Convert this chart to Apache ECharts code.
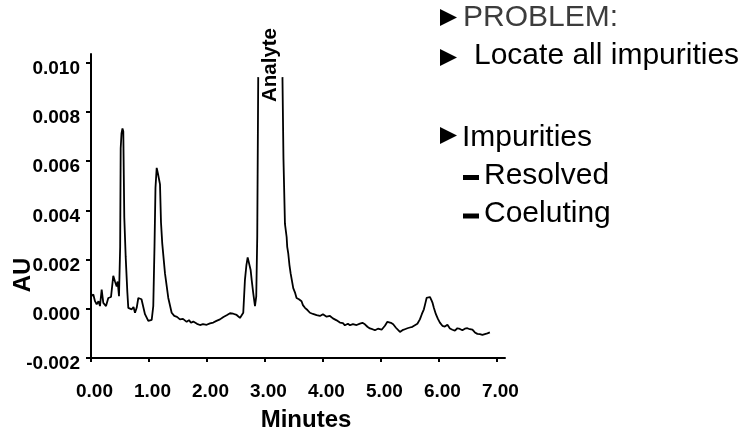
<!DOCTYPE html>
<html>
<head>
<meta charset="utf-8">
<script src="https://cdn.jsdelivr.net/npm/echarts@6/dist/echarts.min.js"></script>
<style>
html,body{margin:0;padding:0;background:#fff;}
#chart{width:748px;height:437px;}
</style>
</head>
<body>
<div id="chart"></div>
<script>
// Retention time (minutes)
const minutes = [
0.000,0.040,0.069,0.098,0.129,0.155,0.184,0.212,0.259,0.298,0.345,0.384,0.414,0.443,0.460,0.483,
0.503,0.512,0.526,0.543,0.557,0.574,0.598,0.626,0.643,0.702,0.733,0.759,0.788,0.816,0.845,0.871,
0.891,0.931,0.988,1.047,1.074,1.095,1.112,1.133,1.155,1.190,1.207,1.229,1.276,1.333,1.391,1.436,
1.483,1.534,1.586,1.650,1.690,1.724,1.764,1.828,1.879,1.931,1.995,2.052,2.109,2.164,2.224,2.284,
2.340,2.397,2.453,2.512,2.540,2.569,2.598,2.626,2.655,2.681,2.702,2.721,2.753,2.771,2.798,2.828,
2.850,2.867,2.884,3.090,3.302,3.319,3.345,3.374,3.384,3.402,3.422,3.443,3.488,3.517,3.545,3.586,
3.631,3.655,3.690,3.733,3.776,3.828,3.891,3.948,4.000,4.064,4.121,4.172,4.236,4.293,4.345,4.379,
4.431,4.466,4.517,4.581,4.638,4.681,4.724,4.767,4.810,4.853,4.897,4.948,5.012,5.069,5.112,5.143,
5.172,5.212,5.259,5.293,5.328,5.371,5.414,5.457,5.500,5.543,5.586,5.629,5.672,5.707,5.741,5.767,
5.788,5.819,5.845,5.871,5.891,5.914,5.948,5.983,6.017,6.060,6.103,6.147,6.190,6.233,6.276,6.319,
6.362,6.405,6.448,6.491,6.534,6.578,6.621,6.664,6.707,6.750,6.793,6.836,6.879
];
// Absorbance (mAU); null = off-scale analyte top (not drawn)
const absorbanceMilli = [
0.51,0.58,0.31,0.18,0.31,0.11,0.78,0.24,0.11,0.44,0.48,1.34,1.11,0.91,1.11,0.51,
2.52,6.53,7.13,7.33,7.21,3.72,2.12,0.71,0.04,-0.02,0.07,-0.16,0.04,0.44,0.51,0.39,
0.31,-0.22,-0.49,-0.45,0.11,2.52,4.92,5.73,5.49,5.06,3.52,2.65,1.44,0.44,-0.16,-0.29,
-0.33,-0.43,-0.41,-0.53,-0.46,-0.57,-0.52,-0.61,-0.66,-0.62,-0.65,-0.59,-0.56,-0.49,-0.43,-0.33,
-0.26,-0.18,-0.20,-0.25,-0.28,-0.37,-0.40,-0.16,1.18,1.79,2.09,2.03,1.58,1.18,0.64,0.11,
0.51,2.92,9.42,null,9.42,6.13,3.45,2.92,2.52,2.25,1.79,1.44,0.84,0.67,0.44,0.39,
0.31,0.15,0.04,-0.05,-0.16,-0.21,-0.26,-0.29,-0.22,-0.32,-0.29,-0.39,-0.47,-0.56,-0.58,-0.67,
-0.61,-0.67,-0.62,-0.66,-0.60,-0.57,-0.63,-0.73,-0.80,-0.83,-0.87,-0.81,-0.85,-0.69,-0.53,-0.49,
-0.57,-0.63,-0.77,-0.85,-0.94,-0.87,-0.83,-0.79,-0.76,-0.73,-0.67,-0.61,-0.43,-0.21,-0.02,0.23,
0.44,0.48,0.48,0.35,0.24,0.03,-0.22,-0.41,-0.56,-0.69,-0.72,-0.65,-0.80,-0.85,-0.89,-0.79,
-0.82,-0.87,-0.81,-0.79,-0.83,-0.85,-0.96,-1.02,-1.03,-1.06,-1.03,-1.00,-0.96
];
const xTicks = [0,1,2,3,4,5,6,7];
const yTicks = [-0.002,0.000,0.002,0.004,0.006,0.008,0.010];
const peakLabel = 'Analyte';
const xTitle = 'Minutes';
const yTitle = 'AU';
const notes = ['PROBLEM:', 'Locate all impurities', 'Impurities', 'Resolved', 'Coeluting'];

const seriesData = minutes.map((t, i) => [t, absorbanceMilli[i] === null ? null : absorbanceMilli[i] / 1000]);

const FONT = '"Liberation Sans", Arial, Helvetica, sans-serif';
const chart = echarts.init(document.getElementById('chart'), null, {renderer: 'canvas'});
const axisLine = {show: true, onZero: false, lineStyle: {color: '#000', width: 2}};

chart.setOption({
  animation: false,
  backgroundColor: '#fff',
  grid: {left: 91, right: 243, top: 54, bottom: 74, containLabel: false},
  xAxis: {
    type: 'value', min: 0, max: 7.14,
    axisLine: axisLine,
    splitLine: {show: false},
    axisTick: {show: true, inside: false, length: 4, customValues: xTicks, lineStyle: {color: '#000', width: 2}},
    axisLabel: {show: true, customValues: xTicks, margin: 24, color: '#000', fontFamily: FONT, fontWeight: 'bold', fontSize: 19,
      padding: [0, 0, 0, 7], formatter: v => v.toFixed(2)},
    name: xTitle, nameLocation: 'middle', nameGap: 50,
    nameTextStyle: {color: '#000', fontFamily: FONT, fontWeight: 'bold', fontSize: 24, padding: [0, 0, 0, 16]}
  },
  yAxis: {
    type: 'value', min: -0.002, max: 0.01036,
    axisLine: axisLine,
    splitLine: {show: false},
    axisTick: {show: true, inside: false, length: 5, customValues: yTicks, lineStyle: {color: '#000', width: 2}},
    axisLabel: {show: true, customValues: yTicks, margin: 11, color: '#000', fontFamily: FONT, fontWeight: 'bold', fontSize: 19,
      verticalAlign: 'top', lineHeight: 12, formatter: v => v.toFixed(3)}
  },
  series: [{
    type: 'line', data: seriesData, showSymbol: false, connectNulls: false, smooth: false,
    lineStyle: {color: '#000', width: 1.8}, silent: true
  }],
  graphic: [
    {type: 'text', x: 23, y: 275, rotation: Math.PI / 2,
      style: {text: yTitle, font: 'bold 24px ' + FONT, fill: '#000', align: 'center', verticalAlign: 'middle'}},
    {type: 'text', x: 270, y: 65, rotation: Math.PI / 2,
      style: {text: peakLabel, font: 'bold 20.5px ' + FONT, fill: '#000', align: 'center', verticalAlign: 'middle'}},
    {type: 'polygon', shape: {points: [[440, 9], [457, 17.5], [440, 26]]}, style: {fill: '#000'}},
    {type: 'text', x: 463, y: 18, style: {text: notes[0], font: '30px ' + FONT, fill: '#3c3c3c', align: 'left', verticalAlign: 'middle'}},
    {type: 'polygon', shape: {points: [[440, 49], [457, 57.5], [440, 66]]}, style: {fill: '#000'}},
    {type: 'text', x: 474, y: 56, style: {text: notes[1], font: '30px ' + FONT, fill: '#000', align: 'left', verticalAlign: 'middle'}},
    {type: 'polygon', shape: {points: [[440, 127], [457, 135.5], [440, 144]]}, style: {fill: '#000'}},
    {type: 'text', x: 462, y: 138, style: {text: notes[2], font: '30px ' + FONT, fill: '#000', align: 'left', verticalAlign: 'middle'}},
    {type: 'rect', shape: {x: 463, y: 175, width: 16, height: 5}, style: {fill: '#000'}},
    {type: 'text', x: 484, y: 176, style: {text: notes[3], font: '30px ' + FONT, fill: '#000', align: 'left', verticalAlign: 'middle'}},
    {type: 'rect', shape: {x: 463, y: 213.5, width: 16, height: 5}, style: {fill: '#000'}},
    {type: 'text', x: 484, y: 214, style: {text: notes[4], font: '30px ' + FONT, fill: '#000', align: 'left', verticalAlign: 'middle'}}
  ]
});
</script>
</body>
</html>
